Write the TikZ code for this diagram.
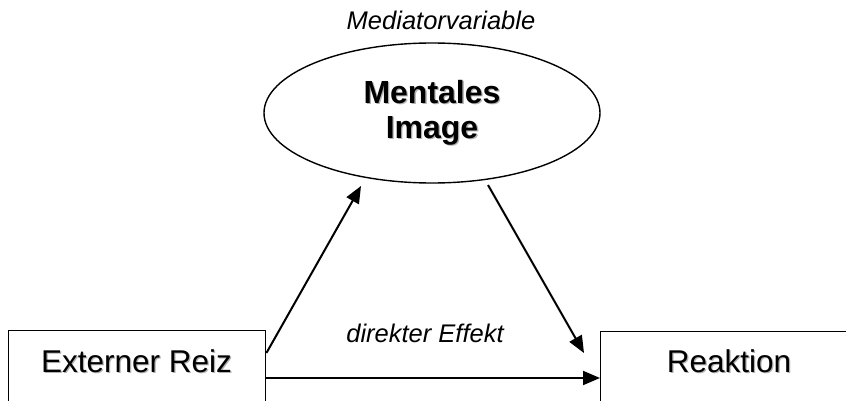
\documentclass[tikz,border=0pt]{standalone}
\usepackage{fontspec}
\setmainfont{Liberation Sans}
\usetikzlibrary{arrows.meta,shapes.geometric,calc}
% text with a soft grey drop shadow
\newcommand\shtext[1]{\makebox[0pt][l]{\raisebox{-1.3pt}{\hspace{1.3pt}\textcolor{black!30}{#1}}}#1}
\begin{document}
\begin{tikzpicture}[x=1pt,y=-1pt,
  boxframe/.style={draw,line width=1.4pt,rectangle,inner sep=0pt,
    minimum width=257pt,minimum height=110pt,anchor=north west},
  boxtext/.style={anchor=base,inner sep=0pt,font=\fontsize{31.5}{36}\selectfont},
  oval/.style={draw,line width=1.4pt,ellipse,inner sep=0pt,
    minimum width=336pt,minimum height=140pt,align=center,
    font=\fontsize{32}{35}\selectfont\bfseries},
  caption/.style={anchor=base,inner sep=0pt,font=\fontsize{25.5}{30}\selectfont\itshape},
  arr/.style={line width=2pt,-{Triangle[length=17pt,width=14pt]}}]
\useasboundingbox (0,0) rectangle (846,401);
\fill[white] (0,0) rectangle (846,401);

% boxes (they run past the lower edge)
\node[boxframe] (reiz) at (8,330) {};
\node[boxframe] (reaktion) at (600,331) {};
\node[boxtext] (reiztext) at (136.5,372) {\shtext{Externer Reiz}};
\node[boxtext] (reaktiontext) at (729,372) {\shtext{Reaktion}};

% mediator
\node[oval] (mental) at (432,113) {\shtext{Mentales}\\\shtext{Image}};
\node[caption] (medcap) at (441,30) {Mediatorvariable};
\node[caption] (direkt) at (425,342) {direkter Effekt};

% connectors
\draw[arr] ($(reiz.north east)+(0,23)$) -- ($(mental.center)+(-71,73)$);
\draw[arr] ($(mental.center)+(56,72)$) -- ($(reaktion.north west)+(-16,22)$);
\draw[arr] ($(reiz.north east)+(0,48)$) -- ($(reaktion.north west)+(0,47)$);
\end{tikzpicture}
\end{document}
